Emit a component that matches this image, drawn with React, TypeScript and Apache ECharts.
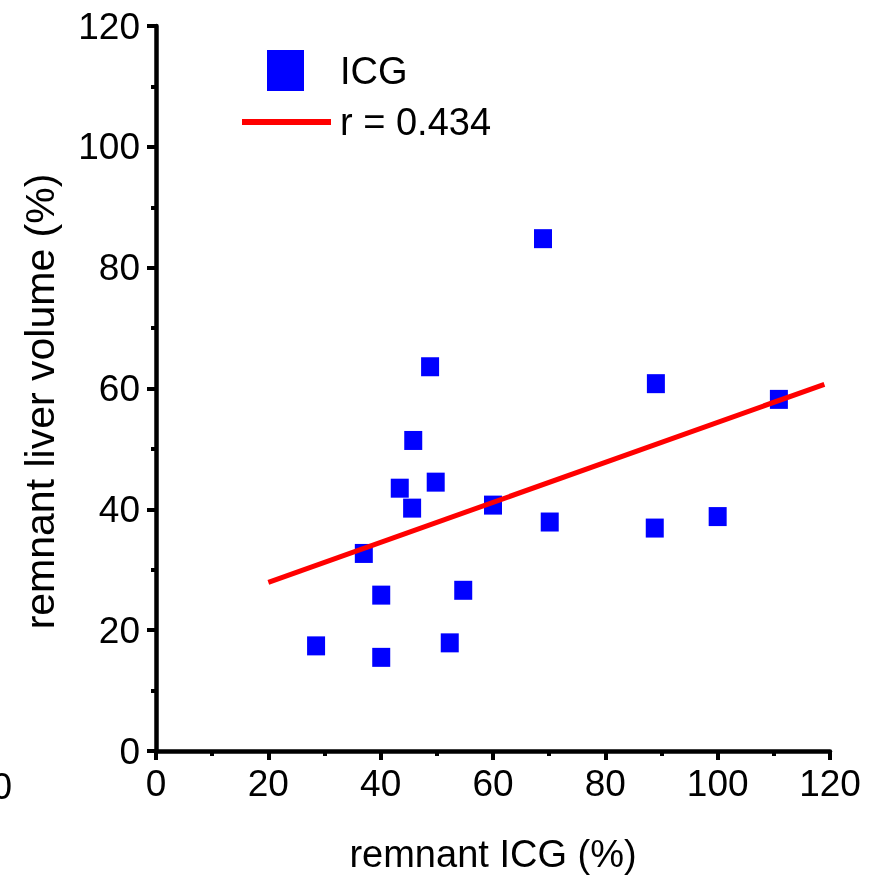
import React, { useEffect, useRef } from "react";
import * as echarts from "echarts";

const xValues = [28.5, 37.0, 40.1, 40.1, 43.4, 45.6, 45.8, 48.8, 49.8, 52.3, 54.7, 60.0, 68.9, 70.1, 89.0, 88.8, 100.0, 110.9];
const yValues = [17.4, 32.7, 25.8, 15.5, 43.5, 40.2, 51.4, 63.6, 44.5, 17.9, 26.6, 40.7, 84.8, 37.9, 60.8, 36.9, 38.8, 58.2];
const fitX = [20, 119];
const fitY = [27.9, 60.7];
const scatterName = "ICG";
const fitName = "r = 0.434";
const xTitle = "remnant ICG (%)";
const yTitle = "remnant liver volume (%)";

const FONT = '"Liberation Sans", Arial, sans-serif';

export default function App() {
  const ref = useRef<HTMLDivElement>(null);
  useEffect(() => {
    if (!ref.current) return;
    const chart = echarts.init(ref.current, undefined, { renderer: "svg" });
    const axisCommon = {
      min: 0,
      max: 120,
      interval: 20,
      splitLine: { show: false },
      axisLine: { show: true, onZero: false, lineStyle: { color: "#000", width: 4.5 } },
      axisTick: { show: true, inside: false, length: 9, lineStyle: { color: "#000", width: 4 } },
      minorTick: { show: true, splitNumber: 2, length: 5, lineStyle: { color: "#000", width: 4 } },
      minorSplitLine: { show: false },
    };
    chart.setOption({
      animation: false,
      textStyle: { fontFamily: FONT },
      grid: { left: 156, right: 51, top: 26, bottom: 128, containLabel: false },
      xAxis: {
        type: "value",
        ...axisCommon,
        name: xTitle,
        nameLocation: "middle",
        nameGap: 84,
        nameTextStyle: { fontSize: 38, color: "#000", fontFamily: FONT },
        axisLabel: { fontSize: 37, color: "#000", margin: 14, fontFamily: FONT },
      },
      yAxis: {
        type: "value",
        ...axisCommon,
        name: yTitle,
        nameLocation: "middle",
        nameGap: 96,
        nameRotate: 90,
        nameTextStyle: { fontSize: 41, color: "#000", fontFamily: FONT, padding: [0, 26, 0, 0] },
        axisLabel: { fontSize: 37, color: "#000", margin: 16, fontFamily: FONT },
      },
      legend: [
        {
          data: [{ name: scatterName, icon: "rect" }],
          left: 267,
          top: 50,
          padding: 0,
          itemWidth: 37,
          itemHeight: 41,
          selectedMode: false,
          itemStyle: { color: "#0000FF", opacity: 1 },
          textStyle: { fontSize: 38, color: "#000", fontFamily: FONT, lineHeight: 40, padding: [0, 0, 0, 31] },
        },
        {
          data: [{ name: fitName, icon: "rect" }],
          left: 242,
          top: 102,
          padding: 0,
          itemWidth: 89,
          itemHeight: 6,
          selectedMode: false,
          textStyle: { fontSize: 38, color: "#000", fontFamily: FONT, lineHeight: 40, padding: [0, 0, 0, 4] },
        },
      ],
      graphic: [
        {
          type: "text",
          x: 12,
          y: 786,
          style: { text: "0", fontSize: 37, fontFamily: FONT, fill: "#000", align: "right", verticalAlign: "middle" },
        },
      ],
      series: [
        {
          name: scatterName,
          type: "scatter",
          symbol: "rect",
          symbolSize: [18, 19],
          itemStyle: { color: "#0000FF", opacity: 1 },
          data: xValues.map((x, i) => [x, yValues[i]]),
          z: 2,
        },
        {
          name: fitName,
          type: "line",
          showSymbol: false,
          symbol: "none",
          lineStyle: { color: "#FF0000", width: 5 },
          itemStyle: { color: "#FF0000" },
          data: fitX.map((x, i) => [x, fitY[i]]),
          z: 3,
        },
      ],
    });
    return () => chart.dispose();
  }, []);
  return <div ref={ref} style={{ position: "fixed", left: 0, top: 0, width: 881, height: 879 }} />;
}
